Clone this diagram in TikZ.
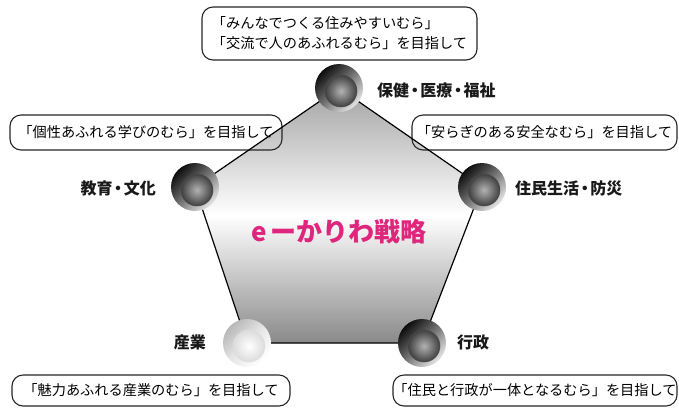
\documentclass[tikz,border=0pt]{standalone}
\usepackage{fontspec}
\newfontfamily\jp{Noto Sans CJK JP}
\definecolor{emag}{RGB}{222,38,125}
\newcommand{\dotk}{\kern-0.15em・\kern-0.15em}
\tikzset{
  box/.style={draw=black!85, line width=1.1pt, rounded corners=11pt, inner sep=0pt,
    font=\jp\fontsize{14.2}{20}\selectfont, align=left},
  lab/.style={font=\jp\bfseries\fontsize{16}{18}\selectfont, inner sep=0pt, text=black!90},
  outerdark/.style={circle, minimum size=48pt, inner sep=0pt, top color=black!95, bottom color=black!10, middle color=black!55, shading angle=45},
  innerdark/.style={circle, minimum size=32pt, inner sep=0pt, inner color=black!30, outer color=black!75, draw=black!70, line width=0.5pt},
  outerlight/.style={circle, minimum size=48pt, inner sep=0pt, top color=black!28, bottom color=white, middle color=black!10, shading angle=45},
  innerlight/.style={circle, minimum size=32pt, inner sep=0pt, inner color=white, outer color=black!14, draw=black!12, line width=0.4pt},
  edge/.style={draw=black, line width=1.2pt},
}
\begin{document}
\begin{tikzpicture}[x=1pt, y=-1pt]
\useasboundingbox (0,0) rectangle (679,408);
\fill[white] (0,0) rectangle (679,408);
% pentagon vertices
\coordinate (p1) at (339,88);
\coordinate (p2) at (482,187);
\coordinate (p3) at (422,343);
\coordinate (p4) at (247,343);
\coordinate (p5) at (195,187);
% pentagon fill
\shade[top color=black!36, bottom color=black!46, middle color=white] (p1) -- (p2) -- (p3) -- (p4) -- (p5) -- cycle;
% boxes
\node[box, minimum width=275pt, minimum height=53pt] (btop) at (339.5,33.5)
  {「みんなでつくる住みやすいむら」\\「交流で人のあふれるむら」を目指して};
\node[box, minimum width=272pt, minimum height=35pt] (bleft) at (146,132.5)
  {「個性あふれる学びのむら」を目指して};
\node[box, minimum width=265pt, minimum height=35pt] (bright) at (544.5,132.5)
  {「安らぎのある安全なむら」を目指して};
\node[box, minimum width=278pt, minimum height=31pt] (bbl) at (151,390.5)
  {「魅力あふれる産業のむら」を目指して};
\node[box, minimum width=284pt, minimum height=31pt] (bbr) at (535,390.5)
  {「住民と行政が一体となるむら」を目指して};
% pentagon edges
\draw[edge] (p1) -- (p2) -- (p3) -- (p4) -- (p5) -- cycle;
% spheres
\node[outerdark] (s1) at (p1) {};
\node[innerdark] (i1) at ([shift={(2,3)}]p1) {};
\node[outerdark] (s2) at (p2) {};
\node[innerdark] (i2) at ([shift={(2,3)}]p2) {};
\node[outerdark] (s3) at (p3) {};
\node[innerdark] (i3) at ([shift={(2,3)}]p3) {};
\node[outerlight] (s4) at (p4) {};
\node[innerlight] (i4) at ([shift={(2,3)}]p4) {};
\node[outerdark] (s5) at (p5) {};
\node[innerdark] (i5) at ([shift={(2,3)}]p5) {};
% labels
\node[lab, anchor=west] (l1) at (377,90) {保健\dotk 医療\dotk 福祉};
\node[lab, anchor=west] (l2) at (515,188) {住民生活\dotk 防災};
\node[lab, anchor=west] (l3) at (457,342) {行政};
\node[lab, anchor=east] (l4) at (206,342) {産業};
\node[lab, anchor=east] (l5) at (156,188) {教育\dotk 文化};
% title
\node[font=\jp\bfseries\fontsize{26}{30}\selectfont, text=emag, inner sep=0pt] (title) at (339,232) {e\,ーかりわ戦略};
\end{tikzpicture}
\end{document}
